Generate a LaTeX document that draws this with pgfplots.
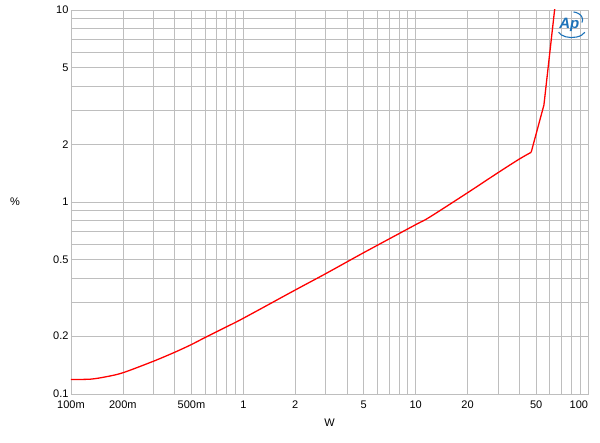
\documentclass[border=0pt]{standalone}
\usepackage{pgfplots}
\pgfplotsset{compat=1.18}
\usepackage{fontspec}
\setmainfont{Liberation Sans}
\definecolor{gridgray}{RGB}{190,190,190}
\definecolor{apblue}{RGB}{30,115,185}
\begin{document}
\begin{tikzpicture}
\begin{axis}[
  at={(0,0)}, anchor=south west,
  scale only axis, width=517pt, height=384pt,
  xmode=log, ymode=log,
  xmin=0.1, xmax=100, ymin=0.1, ymax=10,
  axis line style={gridgray},
  tick style={draw=none},
  grid=both,
  major grid style={gridgray, line width=0.6pt},
  minor grid style={gridgray, line width=0.6pt},
  xtick={0.1,0.2,0.5,1,2,5,10,20,50,100},
  xticklabels={100m,200m,500m,1,2,5,10,20,50,\llap{100}},
  minor xtick={0.3,0.4,0.6,0.7,0.8,0.9,3,4,6,7,8,9,30,40,60,70,80,90},
  ytick={0.1,0.2,0.5,1,2,5,10},
  yticklabels={0.1,0.2,0.5,1,2,5,10},
  minor ytick={0.3,0.4,0.6,0.7,0.8,0.9,3,4,6,7,8,9},
  ticklabel style={font=\fontsize{11}{13}\selectfont, text=black},
  xticklabel style={yshift=-3pt},
  yticklabel style={xshift=1pt},
  /pgf/number format/assume math mode=true,
  xlabel={W}, ylabel={\%},
  label style={font=\fontsize{11}{13}\selectfont},
  xlabel style={at={(rel axis cs:0.5,0)}, anchor=center, yshift=-29pt},
  ylabel style={rotate=-90, at={(rel axis cs:0,0.5)}, anchor=center, xshift=-56pt},
  clip=true,
]
\addplot[red, line width=1.3pt, smooth, tension=0.5] coordinates {
(0.1,0.119)(0.13,0.1195)(0.16,0.123)(0.2,0.129)(0.3,0.148)
(0.4,0.165)(0.5,0.181)(0.6,0.197)(0.8,0.224)(1,0.248)(2,0.348)(3,0.423)
(5,0.545)(10,0.762)(12,0.832)(20,1.117)(30,1.42)(40,1.675)(46.8,1.815)
};
\addplot[red, line width=1.3pt] coordinates {
(46.8,1.815)(55.5,3.2)(64,10)(65,10.8)
};
\node[text=apblue, font=\bfseries\itshape\fontsize{15}{15}\selectfont, inner sep=0pt]
  at (rel axis cs:0.964,0.962) {Ap};
\draw[apblue, line width=1.1pt] (rel axis cs:0.943,0.942) arc[start angle=200, end angle=340, x radius=14pt, y radius=8pt];
\draw[apblue, line width=1.1pt] (rel axis cs:0.972,0.995) arc[start angle=80, end angle=-20, x radius=11pt, y radius=8pt];
\end{axis}
\path[use as bounding box] (-71pt,-48pt) rectangle (529pt,394pt);
\end{tikzpicture}
\end{document}
